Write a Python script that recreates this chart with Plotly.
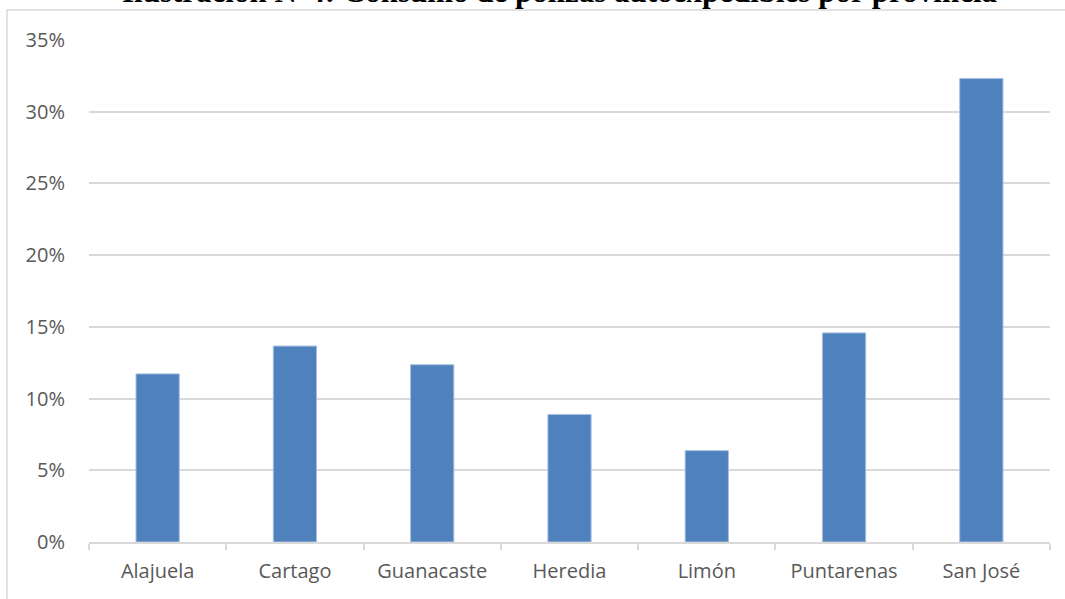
import plotly.graph_objects as go

provinces = ["Alajuela", "Cartago", "Guanacaste", "Heredia", "Limón", "Puntarenas", "San José"]
shares = [0.1172, 0.1366, 0.1236, 0.0889, 0.0637, 0.1458, 0.3231]
y_ticks = [0, 0.05, 0.10, 0.15, 0.20, 0.25, 0.30, 0.35]
y_tick_labels = ["0%", "5%", "10%", "15%", "20%", "25%", "30%", "35%"]
title_text = "Ilustración N°4: Consumo de pólizas autoexpedibles por provincia"

W, H = 1065, 599
L, R, T, B = 89, 15, 40, 57
pw, ph = W - L - R, H - T - B

def px_x(x):
    return (x - L) / pw

def px_y(y):
    return (H - B - y) / ph

fig = go.Figure()
fig.add_trace(go.Bar(
    x=provinces, y=shares,
    marker=dict(color="#4F81BD", line=dict(color="#A7BFDE", width=1)),
    width=0.315,
))

fig.update_layout(
    width=W, height=H,
    margin=dict(l=L, r=R, t=T, b=B),
    paper_bgcolor="white", plot_bgcolor="white",
    showlegend=False,
    font=dict(family="Open Sans", color="#595959", size=20),
    xaxis=dict(
        showgrid=False, showline=True, linecolor="#d9d9d9", linewidth=1.5,
        ticks="outside", tickson="boundaries", ticklen=6, tickcolor="#d9d9d9",
        tickwidth=1.5, tickfont=dict(size=20, color="#595959"),
        ticklabelstandoff=10,
    ),
    yaxis=dict(
        range=[0, 0.35], tickvals=y_ticks, ticktext=y_tick_labels,
        showgrid=True, gridcolor="#d9d9d9", gridwidth=1.5,
        zeroline=False, showline=False, ticks="",
        tickfont=dict(size=20, color="#595959"),
        ticklabelstandoff=23,
    ),
    shapes=[dict(
        type="rect", xref="paper", yref="paper",
        x0=px_x(7), x1=px_x(1100), y0=px_y(650), y1=px_y(10),
        line=dict(color="#d9d9d9", width=1.5), fillcolor="rgba(0,0,0,0)",
        layer="below",
    )],
    annotations=[dict(
        text="<b>" + title_text + "</b>", xref="paper", yref="paper",
        x=px_x(560), y=px_y(11), xanchor="center", yanchor="bottom",
        showarrow=False,
        font=dict(family="Liberation Serif", size=31, color="black"),
    )],
)

fig.write_html("out.html")
